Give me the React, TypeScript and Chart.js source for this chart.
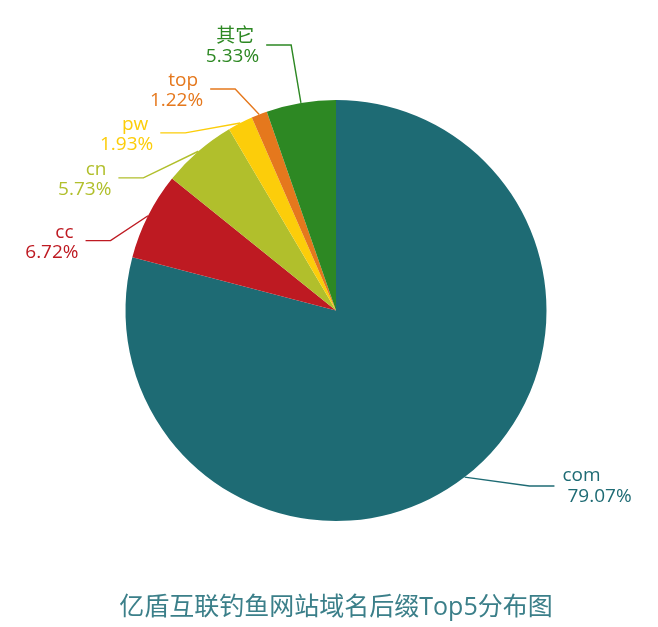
import React, { useEffect, useRef } from "react";
import { Chart, registerables } from "chart.js";

Chart.register(...registerables);

// Domain suffixes and their share of phishing sites (%)
const suffixes = ["com", "cc", "cn", "pw", "top", "其它"];
const shares = [79.07, 6.72, 5.73, 1.93, 1.22, 5.33];
const sliceColors = ["#1e6b74", "#be1a22", "#b1bf2c", "#fccd0a", "#e5781d", "#2d8823"];

const chartTitle = "亿盾互联钓鱼网站域名后缀Top5分布图";

// Leader-line elbow for each label, relative to the pie centre in units of the radius
const labelElbows: [number, number][] = [
  [0.919, 0.834],
  [-1.071, -0.332],
  [-0.915, -0.63],
  [-0.716, -0.844],
  [-0.479, -1.052],
  [-0.213, -1.261],
];

const FONT = '"Open Sans", "Noto Sans CJK SC", sans-serif';

const leaderLabels = {
  id: "leaderLabels",
  afterDatasetsDraw(chart: any) {
    const ctx = chart.ctx as CanvasRenderingContext2D;
    const meta = chart.getDatasetMeta(0);
    ctx.save();
    meta.data.forEach((arc: any, i: number) => {
      const { x, y, startAngle, endAngle, outerRadius } = arc.getProps(
        ["x", "y", "startAngle", "endAngle", "outerRadius"],
        true
      );
      const mid = (startAngle + endAngle) / 2;
      const sx = x + Math.cos(mid) * outerRadius;
      const sy = y + Math.sin(mid) * outerRadius;
      const [ex, ey] = labelElbows[i];
      const bx = x + ex * outerRadius;
      const by = y + ey * outerRadius;
      const right = ex > 0;
      const endX = bx + (right ? 25 : -25);
      const color = sliceColors[i];

      ctx.strokeStyle = color;
      ctx.lineWidth = 1.4;
      ctx.beginPath();
      ctx.moveTo(sx, sy);
      ctx.lineTo(bx, by);
      ctx.lineTo(endX, by);
      ctx.stroke();

      ctx.fillStyle = color;
      ctx.font = `19px ${FONT}`;
      ctx.textBaseline = "middle";
      const pct = shares[i].toFixed(2) + "%";
      if (right) {
        ctx.textAlign = "left";
        ctx.fillText(suffixes[i], endX + 8, by - 10);
        ctx.fillText(pct, endX + 13, by + 11);
      } else {
        ctx.textAlign = "right";
        ctx.fillText(suffixes[i], endX - 12, by - 8);
        ctx.fillText(pct, endX - 7, by + 12);
      }
    });

    ctx.fillStyle = "#3b7f89";
    ctx.font = `25px ${FONT}`;
    ctx.textAlign = "center";
    ctx.textBaseline = "middle";
    ctx.fillText(chartTitle, chart.width / 2 + 7, 608);
    ctx.restore();
  },
};

export default function App() {
  const canvasRef = useRef<HTMLCanvasElement | null>(null);

  useEffect(() => {
    document.body.style.margin = "0";
    const canvas = canvasRef.current;
    if (!canvas) return;
    const chart = new Chart(canvas, {
      type: "pie",
      data: {
        labels: suffixes,
        datasets: [
          {
            data: shares,
            backgroundColor: sliceColors,
            borderWidth: 0,
          },
        ],
      },
      options: {
        responsive: false,
        animation: false,
        layout: { padding: { left: 125, right: 111, top: 100, bottom: 106 } },
        plugins: {
          legend: { display: false },
          tooltip: { enabled: false },
          title: { display: false },
        },
      },
      plugins: [leaderLabels],
    });
    return () => chart.destroy();
  }, []);

  return (
    <div style={{ width: 658, height: 627, background: "#fff" }}>
      <canvas ref={canvasRef} width={658} height={627} />
    </div>
  );
}
